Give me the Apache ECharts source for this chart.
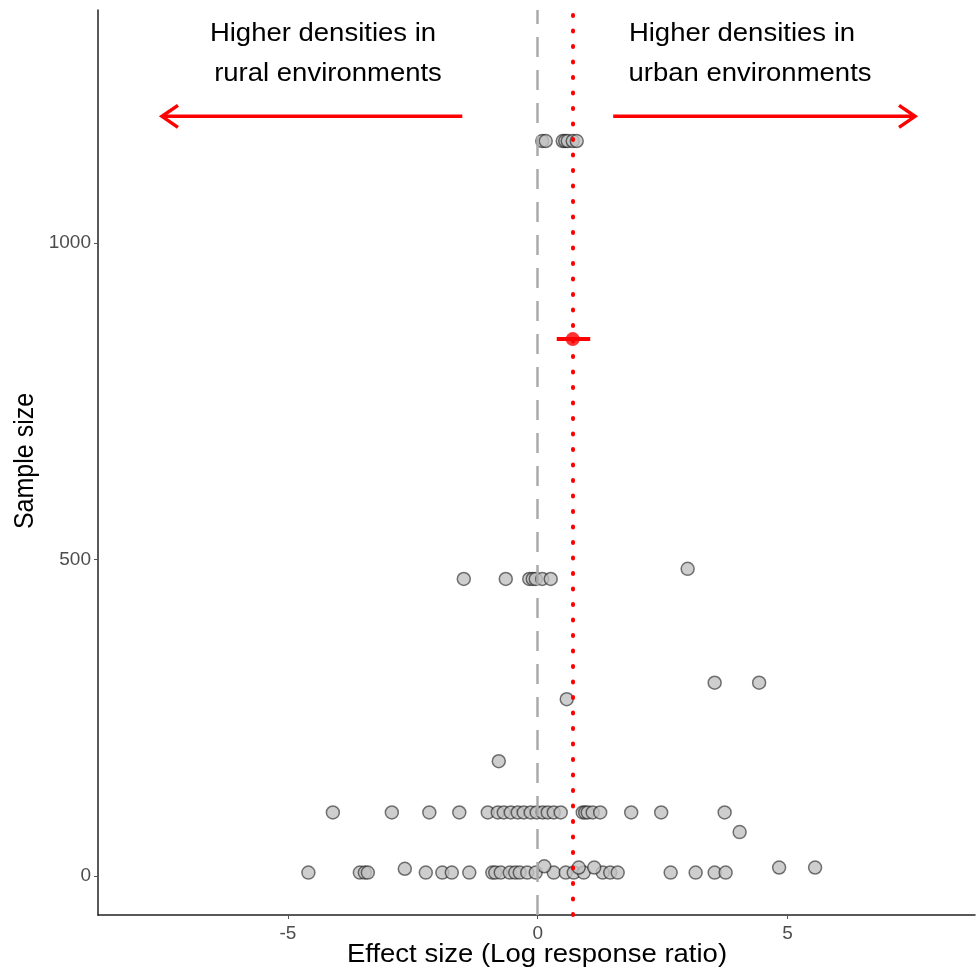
<!DOCTYPE html>
<html>
<head>
<meta charset="utf-8">
<script src="https://cdn.jsdelivr.net/npm/echarts@6/dist/echarts.min.js"></script>
<style>
  html, body { margin: 0; padding: 0; background: #fff; }
  #chart { width: 977px; height: 970px; }
</style>
</head>
<body>
<div id="chart"></div>
<script>
// study effect sizes (log response ratio) and sample sizes
const effectSize = [
  // n ~ 1160
  0.09, 0.16, 0.5, 0.55, 0.6, 0.7, 0.78,
  // n ~ 470
  -1.48, -0.64, -0.17, -0.1, -0.04, 0.09, 0.26, 3.0,
  // scattered
  0.58, 3.54, 4.43, -0.78, 4.04,
  // n ~ 100
  -4.1, -2.92, -2.17, -1.57, -1.0, -0.8, -0.68, -0.54, -0.4, -0.28, -0.14, -0.02,
  0.1, 0.2, 0.32, 0.46, 0.9, 0.95, 1.0, 1.1, 1.25, 1.87, 2.47, 3.74,
  // small n
  -4.59, -3.56, -3.46, -3.4, -2.24, -1.91, -1.72, -1.37, -0.91, -0.85, -0.74, -0.56,
  -0.45, -0.36, -0.21, -0.04, 0.32, 0.56, 0.72, 0.92, 1.3, 1.45, 1.6, 2.66, 3.16,
  3.54, 3.76,
  -2.66, 0.13, 0.82, 1.13, 4.83, 5.55
];
const sampleSize = [
  1161, 1161, 1161, 1161, 1161, 1161, 1161,
  469, 469, 469, 469, 469, 469, 469, 485,
  279, 305, 305, 181, 69,
  100, 100, 100, 100, 100, 100, 100, 100, 100, 100, 100, 100,
  100, 100, 100, 100, 100, 100, 100, 100, 100, 100, 100, 100,
  5, 5, 5, 5, 5, 5, 5, 5, 5, 5, 5, 5,
  5, 5, 5, 5, 5, 5, 5, 5, 5, 5, 5, 5, 5,
  5, 5,
  11, 15, 13, 13, 13, 13
];

// pooled effect with its confidence interval
const meanEffect = 0.7;
const meanCI = [0.38, 1.05];
const meanY = 848;

// direction arrows: [from x, to x, y]
const arrows = [
  [-1.51, -7.52, 1200],
  [1.51, 7.55, 1200]
];

const xTicks = [-5, 0, 5];
const yTicks = [0, 500, 1000];

const FONT = 'Liberation Sans, Arial, sans-serif';

const chart = echarts.init(document.getElementById('chart'), null, { renderer: 'canvas' });

const points = effectSize.map((x, i) => [x, sampleSize[i]]);

// the reference text is slightly stretched horizontally
function label(text, x, y, rotation) {
  return {
    type: 'text', x: x, y: y, rotation: rotation || 0,
    scaleX: rotation ? 1 : 1.1, scaleY: rotation ? 1.1 : 1,
    style: { text: text, fontSize: 25, fontFamily: FONT, fill: '#000', align: 'center', verticalAlign: 'middle' }
  };
}

const option = {
  backgroundColor: '#fff',
  animation: false,
  grid: { left: 98, right: 2, top: 10, bottom: 55, outerBoundsMode: 'none' },
  xAxis: {
    type: 'value',
    min: -8.8,
    max: 8.75,
    axisLine: { show: true, onZero: false, lineStyle: { color: '#222', width: 1.5 } },
    axisTick: { show: true, customValues: xTicks, length: 4, lineStyle: { color: '#555' } },
    axisLabel: { customValues: xTicks, fontSize: 19, color: '#4d4d4d', fontFamily: FONT, margin: 9 },
    splitLine: { show: false }
  },
  yAxis: {
    type: 'value',
    min: -62,
    max: 1368,
    axisLine: { show: true, onZero: false, lineStyle: { color: '#222', width: 1.5 } },
    axisTick: { show: true, customValues: yTicks, length: 4, lineStyle: { color: '#555' } },
    axisLabel: {
      customValues: yTicks, fontSize: 19, color: '#4d4d4d', fontFamily: FONT, margin: 7,
      formatter: v => String(v)
    },
    splitLine: { show: false }
  },
  series: [
    {
      type: 'scatter',
      data: points,
      symbolSize: 13,
      itemStyle: { color: '#c2c2c2', borderColor: 'rgba(0,0,0,0.65)', borderWidth: 1.5 },
      markLine: {
        silent: true,
        symbol: 'none',
        label: { show: false },
        data: [
          { xAxis: 0, lineStyle: { color: '#aaaaaa', width: 2.5, type: [20, 13] } },
          { xAxis: meanEffect, lineStyle: { color: '#ff0000', width: 4, type: [1, 14.5], cap: 'round' } }
        ]
      },
      z: 3
    },
    {
      type: 'line',
      data: [[meanCI[0], meanY], [meanCI[1], meanY]],
      showSymbol: false,
      lineStyle: { color: '#ff0000', width: 4 },
      z: 4
    },
    {
      type: 'scatter',
      data: [[meanEffect, meanY]],
      symbolSize: 14,
      itemStyle: { color: '#ff0000' },
      z: 5
    },
    {
      type: 'custom',
      data: arrows,
      renderItem: function (params, api) {
        const p0 = api.coord([api.value(0), api.value(2)]);
        const p1 = api.coord([api.value(1), api.value(2)]);
        const dir = p1[0] > p0[0] ? -1 : 1;
        const hx = 16, hy = 11;
        return {
          type: 'group',
          children: [
            {
              type: 'line',
              shape: { x1: p0[0], y1: p0[1], x2: p1[0], y2: p1[1] },
              style: { stroke: '#ff0000', lineWidth: 3.5 }
            },
            {
              type: 'polyline',
              shape: { points: [[p1[0] + dir * hx, p1[1] - hy], [p1[0], p1[1]], [p1[0] + dir * hx, p1[1] + hy]] },
              style: { stroke: '#ff0000', lineWidth: 3.5, fill: null }
            }
          ]
        };
      },
      z: 6
    }
  ],
  graphic: [
    label('Higher densities in', 323, 34),
    label('rural environments', 328, 74),
    label('Higher densities in', 742, 34),
    label('urban environments', 750, 74),
    label('Effect size (Log response ratio)', 537, 955),
    label('Sample size', 25, 461, Math.PI / 2)
  ]
};

chart.setOption(option);
</script>
</body>
</html>
